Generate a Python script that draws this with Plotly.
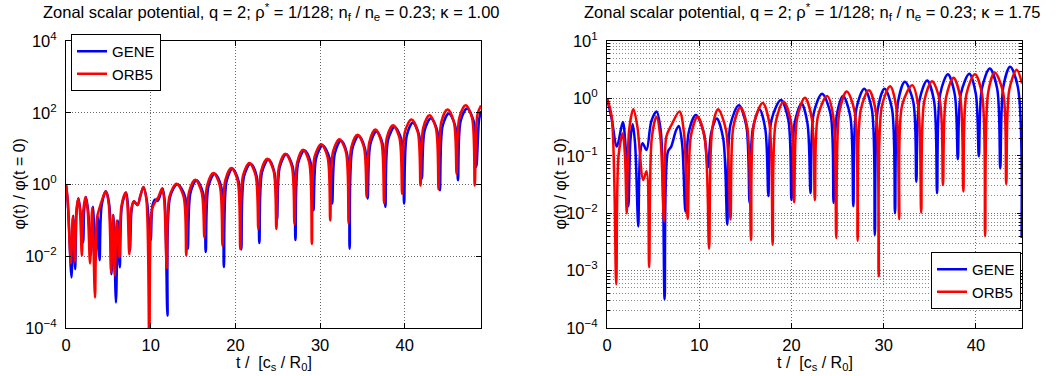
import plotly.graph_objects as go

W, H = 1060, 376

# ---------------- data (log10 of phi(t)/phi(0)) ----------------
# Panel 1: kappa = 1.00
gene_k100_t = [0, 0.2, 0.65, 0.85, 1.08, 1.25, 1.47, 1.7, 2.02, 2.15, 2.35, 2.6, 2.95, 3.18, 3.5, 3.75, 3.97,
               4.2, 4.7, 5.1, 5.37, 5.6, 5.9, 6.12, 6.35, 6.6, 7.1, 7.3, 7.55, 7.75, 8.0, 8.45, 8.8, 9.15,
               9.55, 10.0, 10.2, 10.5, 10.85, 11.4, 11.65, 11.98,
               12.3, 13.15, 14.06, 14.38, 14.7, 15.4, 16.18, 16.5, 16.82, 17.55, 18.32, 18.64,
               18.96, 19.65, 20.38, 20.7, 21.02, 21.78, 22.51, 22.83, 23.15, 23.9, 24.6, 24.92,
               25.24, 26.0, 26.77, 27.09, 27.41, 28.15, 28.9, 29.22, 29.54, 30.3, 31.11, 31.43,
               31.75, 32.45, 33.17, 33.49, 33.81, 34.55, 35.3, 35.62, 35.94, 36.65, 37.39, 37.71,
               38.03, 38.8, 39.6, 39.92, 40.24, 40.95, 41.7, 42.02, 42.34, 43.08, 43.83, 44.15,
               44.47, 45.2, 45.96, 46.28, 46.6, 47.35, 48.13, 48.45, 48.77, 49.0]
gene_k100_log10 = [0, -0.45, -2.59, -0.87, -2.36, -0.75, -0.38, -0.75, -1.61, -0.7, -0.35, -0.7, -1.95, -0.62,
                   -2.1, -0.9, -2.11, -0.6, -0.19, -0.55, -2.5, -0.85, -3.29, -1.0, -2.31, -0.6, -0.22, -0.55,
                   -1.84, -0.7, -0.47, -0.57, -0.3, -0.07, -0.45, -1.55, -0.6, -0.42, -0.45, -0.11, -0.45, -3.66,
                   -0.34, 0.01, -0.34, -1.79, -0.23, 0.12, -0.23, -1.88, -0.05, 0.30, -0.05, -2.30,
                   0.09, 0.44, 0.09, -1.81, 0.23, 0.58, 0.23, -1.63, 0.35, 0.70, 0.35, -0.98,
                   0.49, 0.84, 0.49, -1.55, 0.60, 0.95, 0.60, -0.72, 0.74, 1.09, 0.74, -0.53,
                   0.87, 1.22, 0.87, -1.79, 1.00, 1.35, 1.00, -0.39, 1.13, 1.48, 1.13, -0.62,
                   1.25, 1.60, 1.25, -0.53, 1.37, 1.72, 1.37, 0.17, 1.50, 1.85, 1.50, -0.16,
                   1.63, 1.98, 1.63, 0.12, 1.77, 2.12, 1.77, 0.49, 1.80, 2.05]

orb5_k100_t = [0, 0.2, 0.58, 0.8, 1.05, 1.22, 1.45, 1.65, 1.87, 2.05, 2.3, 2.55, 2.84, 3.1, 3.42, 3.65, 3.9,
               4.3, 4.7, 5.05, 5.33, 5.55, 5.76, 6.0, 6.3, 6.55, 7.05, 7.25, 7.47, 7.7, 8.0, 8.45, 8.8, 9.15,
               9.5, 9.84, 10.15, 10.5, 10.9, 11.35, 11.6, 11.9,
               12.22, 13.05, 13.88, 14.2, 14.52, 15.27, 16.02, 16.34, 16.66, 17.41, 18.16, 18.48,
               18.8, 19.53, 20.26, 20.58, 20.9, 21.65, 22.39, 22.71, 23.03, 23.78, 24.52, 24.84,
               25.16, 25.91, 26.66, 26.98, 27.3, 28.0, 28.71, 29.03, 29.35, 30.12, 30.88, 31.2,
               31.52, 32.28, 33.05, 33.37, 33.69, 34.43, 35.18, 35.5, 35.82, 36.53, 37.24, 37.56,
               37.88, 38.62, 39.37, 39.69, 40.01, 40.78, 41.54, 41.86, 42.18, 42.92, 43.67, 43.99,
               44.31, 45.05, 45.8, 46.12, 46.44, 47.19, 47.94, 48.26, 48.58, 49.0]
orb5_k100_log10 = [0, -0.45, -2.2, -0.9, -2.15, -0.75, -0.38, -0.75, -1.98, -0.7, -0.35, -0.7, -2.2, -0.65,
                   -3.15, -0.95, -0.7, -0.4, -0.19, -0.55, -2.45, -0.85, -2.54, -1.0, -2.03, -0.6, -0.22, -0.55,
                   -1.94, -0.7, -0.47, -0.57, -0.3, -0.07, -0.45, -4.6, -0.7, -0.5, -0.35, -0.11, -0.45, -2.33,
                   -0.33, 0.02, -0.33, -1.98, -0.22, 0.13, -0.22, -1.47, -0.03, 0.32, -0.03, -1.70,
                   0.11, 0.46, 0.11, -1.80, 0.25, 0.60, 0.25, -1.24, 0.37, 0.72, 0.37, -1.24,
                   0.51, 0.86, 0.51, -1.10, 0.62, 0.97, 0.62, -1.66, 0.77, 1.12, 0.77, -1.00,
                   0.91, 1.26, 0.91, -1.08, 1.04, 1.39, 1.04, -0.34, 1.18, 1.53, 1.18, -0.52,
                   1.30, 1.65, 1.30, -0.26, 1.46, 1.81, 1.46, -0.03, 1.58, 1.93, 1.58, -0.13,
                   1.74, 2.09, 1.74, 0.30, 1.86, 2.21, 1.86, -0.03, 1.95, 2.20]

# Panel 2: kappa = 1.75
gene_k175_t = [0, 0.5, 1.07, 1.71, 2.0, 2.32, 2.55, 2.79, 3.05, 3.39, 3.6, 3.86, 4.29, 4.8, 5.36, 5.85, 6.25,
               6.6, 6.96, 7.5, 7.79, 8.15, 8.5, 8.85, 9.64, 10.5, 10.95, 11.3, 11.9, 12.6, 13.04,
               13.37, 14.29, 15.1, 15.46, 15.8, 16.54, 17.17, 17.5, 17.83, 18.86, 19.67, 20.0,
               20.33, 21.1, 21.74, 22.07, 22.4, 23.32, 24.24, 24.57, 24.9, 25.6, 26.38, 26.71,
               27.04, 27.89, 28.71, 29.04, 29.37, 30.1, 30.9, 31.23, 31.56, 32.3, 33.21, 33.54,
               33.87, 34.71, 35.46, 35.79, 36.12, 36.96, 37.71, 38.04, 38.37, 39.29, 39.99, 40.32,
               40.65, 41.5, 42.31, 42.64, 42.97, 43.71, 44.55, 44.95]
gene_k175_log10 = [0, -0.35, -0.84, -0.41, -0.8, -1.88, -0.7, -0.45, -0.8, -2.23, -0.95, -0.78, -0.90, -0.4,
                   -0.23, -0.6, -3.5, -0.93, -0.84, -0.55, -0.48, -0.8, -1.97, -0.6, -0.29, -0.6, -1.2, -0.6,
                   -0.35, -0.7, -2.2,
                   -0.47, -0.12, -0.47, -1.82, -0.54, -0.19, -0.54, -1.70, -0.38, -0.03, -0.38, -1.77,
                   -0.44, -0.09, -0.44, -1.65, -0.27, 0.08, -0.27, -1.82, -0.31, 0.04, -0.31, -1.88,
                   -0.18, 0.17, -0.18, -2.38, -0.18, 0.17, -0.18, -2.0, -0.06, 0.29, -0.06, -1.45,
                   -0.04, 0.31, -0.04, -1.65, 0.07, 0.42, 0.07, -1.06, 0.08, 0.43, 0.08, -1.01,
                   0.17, 0.52, 0.17, -1.22, 0.20, 0.55, 0.20, -2.43]

orb5_k175_t = [0, 0.5, 1.0, 1.25, 1.71, 1.95, 2.14, 2.4, 2.86, 3.3, 3.93, 4.29, 4.57, 4.85, 5.36, 5.8, 6.18,
               6.43, 7.0, 7.86, 8.35, 8.75, 9.1, 9.82, 10.6, 11.07, 11.4, 12.04, 12.9, 13.39,
               13.7, 14.46, 15.2, 15.62, 15.95, 16.89, 17.6, 17.96, 18.3, 19.14, 19.95, 20.29,
               20.62, 21.46, 22.2, 22.54, 22.87, 23.86, 24.53, 24.86, 25.2, 26.0, 26.85, 27.18,
               27.5, 28.39, 29.13, 29.46, 29.8, 30.71, 31.35, 31.68, 32.0, 33.1, 33.74, 34.07,
               34.4, 35.25, 36.1, 36.43, 36.76, 37.57, 38.31, 38.64, 38.97, 39.89, 40.67, 41.0,
               41.33, 42.04, 42.96, 43.29, 43.62, 44.43, 45.0]
orb5_k175_log10 = [0, -0.3, -3.24, -1.0, -0.61, -1.0, -2.0, -0.55, -0.19, -0.5, -1.42, -1.27, -2.94, -0.7,
                   -0.32, -0.7, -2.14, -0.67, -0.46, -0.23, -0.6, -2.10, -0.65, -0.32, -0.7, -2.62, -0.55,
                   -0.19, -0.55, -2.11,
                   -0.5, -0.16, -0.5, -2.47, -0.43, -0.08, -0.43, -2.55, -0.41, -0.06, -0.41, -1.81,
                   -0.34, 0.01, -0.34, -1.77, -0.31, 0.04, -0.31, -2.43, -0.23, 0.12, -0.23, -2.48,
                   -0.21, 0.14, -0.21, -3.10, -0.14, 0.21, -0.14, -2.10, -0.12, 0.23, -0.12, -1.99,
                   -0.05, 0.30, -0.05, -1.51, 0.01, 0.36, 0.01, -1.62, 0.07, 0.42, 0.07, -2.40,
                   0.10, 0.45, 0.10, -1.49, 0.15, 0.50, 0.26]

series_names = ["GENE", "ORB5"]
series_colors = ["#0000ff", "#ff0000"]
x_ticks = [0, 10, 20, 30, 40]
left_y_exp = [-4, -2, 0, 2, 4]
right_y_exp = [-4, -3, -2, -1, 0, 1]
titles = ["Zonal scalar potential, q = 2; \u03c1<sup>*</sup> = 1/128; n<sub>f</sub> / n<sub>e</sub> = 0.23; \u03ba = 1.00",
          "Zonal scalar potential, q = 2; \u03c1<sup>*</sup> = 1/128; n<sub>f</sub> / n<sub>e</sub> = 0.23; \u03ba = 1.75"]

# ---------------- figure ----------------
FONT = "Liberation Sans, Arial, Helvetica, sans-serif"
fig = go.Figure()

def pw(v):
    return [10 ** e for e in v]

panels = [
    ("x", "y", "legend", [(gene_k100_t, gene_k100_log10), (orb5_k100_t, orb5_k100_log10)]),
    ("x2", "y2", "legend2", [(gene_k175_t, gene_k175_log10), (orb5_k175_t, orb5_k175_log10)]),
]
for xa, ya, lg, data in panels:
    for (t, e), name, col in zip(data, series_names, series_colors):
        fig.add_trace(go.Scatter(x=t, y=pw(e), mode="lines", name=name, legend=lg,
                                 line=dict(color=col, width=2.5, shape="spline", smoothing=0.9),
                                 xaxis=xa, yaxis=ya, hoverinfo="skip"))

def exp_label(n):
    return "10<sup>" + (str(n) if n >= 0 else "\u2212" + str(-n)) + "</sup>"

L_axes = (66, 481)
R_axes = (607, 1022)
TOP, BOT = 41, 328
ydom = [1 - BOT / H, 1 - TOP / H]

grid_common = dict(showgrid=True, gridcolor="#6a6a6a", gridwidth=1, griddash="1px,2px")
axis_common = dict(showline=True, linecolor="black", linewidth=1, mirror="ticks", ticks="inside",
                   ticklen=5, tickcolor="black", zeroline=False, automargin=False,
                   tickfont=dict(family=FONT, size=16.5, color="black"), **grid_common)

minor_vals = [k * 10 ** n for n in range(-4, 1) for k in range(2, 10)]

fig.update_layout(
    width=W, height=376, autosize=False,
    margin=dict(l=0, r=0, t=0, b=0, autoexpand=False),
    paper_bgcolor="white", plot_bgcolor="white",
    font=dict(family=FONT, size=15, color="black"),
    showlegend=True,
    xaxis=dict(domain=[L_axes[0] / W, L_axes[1] / W], range=[0, 49], anchor="y",
               tickmode="array", tickvals=x_ticks, ticklabelstandoff=2, **axis_common),
    yaxis=dict(domain=ydom, type="log", range=[-4, 4], anchor="x",
               tickmode="array", tickvals=[10 ** n for n in left_y_exp], ticklabelstandoff=5,
               ticktext=[exp_label(n) for n in left_y_exp], **axis_common),
    xaxis2=dict(domain=[R_axes[0] / W, R_axes[1] / W], range=[0, 45], anchor="y2",
                tickmode="array", tickvals=x_ticks, ticklabelstandoff=2, **axis_common),
    yaxis2=dict(domain=ydom, type="log", range=[-4, 1], anchor="x2",
                tickmode="array", tickvals=[10 ** n for n in right_y_exp], ticklabelstandoff=5,
                ticktext=[exp_label(n) for n in right_y_exp],
                minor=dict(tickmode="array", tickvals=minor_vals, ticks="inside", ticklen=3,
                           tickcolor="black", showgrid=True, gridcolor="#8a8a8a", gridwidth=1,
                           griddash="1px,2px"),
                **axis_common),
    legend=dict(x=71 / W, y=1 - 34 / H, xanchor="left", yanchor="top", bgcolor="white",
                bordercolor="black", borderwidth=1, font=dict(family=FONT, size=15, color="black"),
                tracegroupgap=0),
    legend2=dict(x=1021 / W, y=1 - 309 / H, xanchor="right", yanchor="bottom", bgcolor="white",
                 bordercolor="black", borderwidth=1, font=dict(family=FONT, size=15, color="black"),
                 tracegroupgap=0),
)

ann = []
for (a0, a1), ttl in zip([L_axes, R_axes], titles):
    cx = (a0 + a1) / 2
    ann.append(dict(text=ttl, x=(cx - 2) / W, y=1 - 12 / H, xref="paper", yref="paper",
                    xanchor="center", yanchor="middle", showarrow=False,
                    font=dict(family=FONT, size=16.5, color="black")))
    ann.append(dict(text="t /  [c<sub>s</sub> / R<sub>0</sub>]", x=cx / W, y=1 - 363 / H,
                    xref="paper", yref="paper", xanchor="center", yanchor="middle", showarrow=False,
                    font=dict(family=FONT, size=16, color="black")))
for xpos in [19, 560]:
    ann.append(dict(text="\u03c6(t) / \u03c6(t = 0)", x=xpos / W, y=1 - 184.5 / H, xref="paper", yref="paper",
                    xanchor="center", yanchor="middle", textangle=-90, showarrow=False,
                    font=dict(family=FONT, size=16, color="black")))
fig.update_layout(annotations=ann)

fig.write_html("out.html")
